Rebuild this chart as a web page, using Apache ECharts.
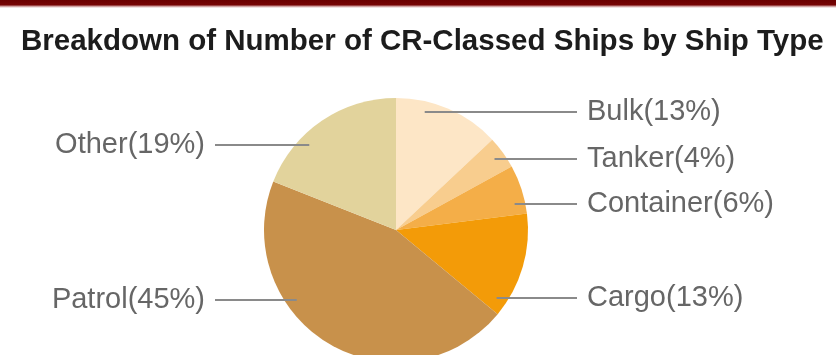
<!DOCTYPE html>
<html>
<head>
<meta charset="utf-8">
<script src="https://cdn.jsdelivr.net/npm/echarts@6/dist/echarts.min.js"></script>
<style>
  html, body { margin: 0; padding: 0; background: #ffffff; }
  #chart { width: 836px; height: 355px; }
</style>
</head>
<body>
<div id="chart"></div>
<script>
// Ship types and their share of CR-classed ships (percent)
const shipTypes = ['Bulk', 'Tanker', 'Container', 'Cargo', 'Patrol', 'Other'];
const shares = [13, 4, 6, 13, 45, 19];
const sliceColors = ['#fde6c6', '#f8cd8e', '#f4ae48', '#f39b08', '#c8914b', '#e2d39c'];

// Pie geometry and label layout
const CX = 396, CY = 230, R = 132;
const labelRows = [112, 159, 204, 298, 300, 145];   // vertical placement of each label
const rightTextX = 587, leftTextX = 205, gap = 10;

const fontFamily = 'Liberation Sans, Arial, sans-serif';

// Places every label on its row and runs a horizontal leader from the text
// into the slice, ending on a circle just inside the pie edge.
function placeLabel(params) {
  const i = params.dataIndex;
  const y = labelRows[i];
  const pts = params.labelLinePoints;
  const onRight = pts ? pts[0][0] >= CX : true;
  const rIn = R * 0.92;
  const dy = y - CY;
  const dx = Math.sqrt(Math.max(rIn * rIn - dy * dy, 0));
  const innerX = onRight ? CX + dx : CX - dx;
  const textX = onRight ? rightTextX : leftTextX;
  const lineEnd = onRight ? textX - gap : textX + gap;
  return {
    x: textX,
    y: y,
    align: onRight ? 'left' : 'right',
    verticalAlign: 'middle',
    labelLinePoints: [[innerX, y], [(innerX + lineEnd) / 2, y], [lineEnd, y]]
  };
}

const pieBase = {
  type: 'pie',
  center: [CX, CY],
  radius: [0, R],
  startAngle: 90,
  clockwise: true,
  avoidLabelOverlap: false,
  emphasis: { disabled: true },
  silent: true
};

const chart = echarts.init(document.getElementById('chart'), null, { renderer: 'canvas' });

chart.setOption({
  animation: false,
  backgroundColor: '#ffffff',
  title: {
    text: 'Breakdown of Number of CR-Classed Ships by Ship Type',
    left: 16,
    top: 22,
    textStyle: {
      fontFamily: fontFamily,
      fontSize: 29.5,
      fontWeight: 'bold',
      color: '#1c1c1c'
    }
  },
  graphic: [{
    type: 'rect',
    left: 0, top: 0,
    shape: { width: 836, height: 8 },
    style: {
      fill: new echarts.graphic.LinearGradient(0, 0, 0, 1, [
        { offset: 0, color: '#6a0000' },
        { offset: 0.6, color: '#760404' },
        { offset: 0.82, color: '#d4a8a8' },
        { offset: 1, color: '#ffffff' }
      ])
    },
    silent: true
  }],
  series: [
    // Filled slices
    Object.assign({}, pieBase, {
      z: 2,
      data: shipTypes.map((name, i) => ({
        name: name,
        value: shares[i],
        itemStyle: { color: sliceColors[i] }
      })),
      itemStyle: { borderWidth: 0 },
      label: { show: false },
      labelLine: { show: false }
    }),
    // Transparent overlay carrying labels, so leaders sit on top of the slices
    Object.assign({}, pieBase, {
      z: 4,
      data: shipTypes.map((name, i) => ({
        name: name,
        value: shares[i],
        itemStyle: { color: 'rgba(0,0,0,0)' }
      })),
      itemStyle: { borderWidth: 0 },
      label: {
        show: true,
        position: 'outside',
        formatter: p => p.name + '(' + p.value + '%)',
        fontFamily: fontFamily,
        fontSize: 29,
        color: '#666666'
      },
      labelLine: {
        show: true,
        showAbove: true,
        lineStyle: { color: '#8a8a8a', width: 2 }
      },
      labelLayout: placeLabel
    })
  ]
});
</script>
</body>
</html>
